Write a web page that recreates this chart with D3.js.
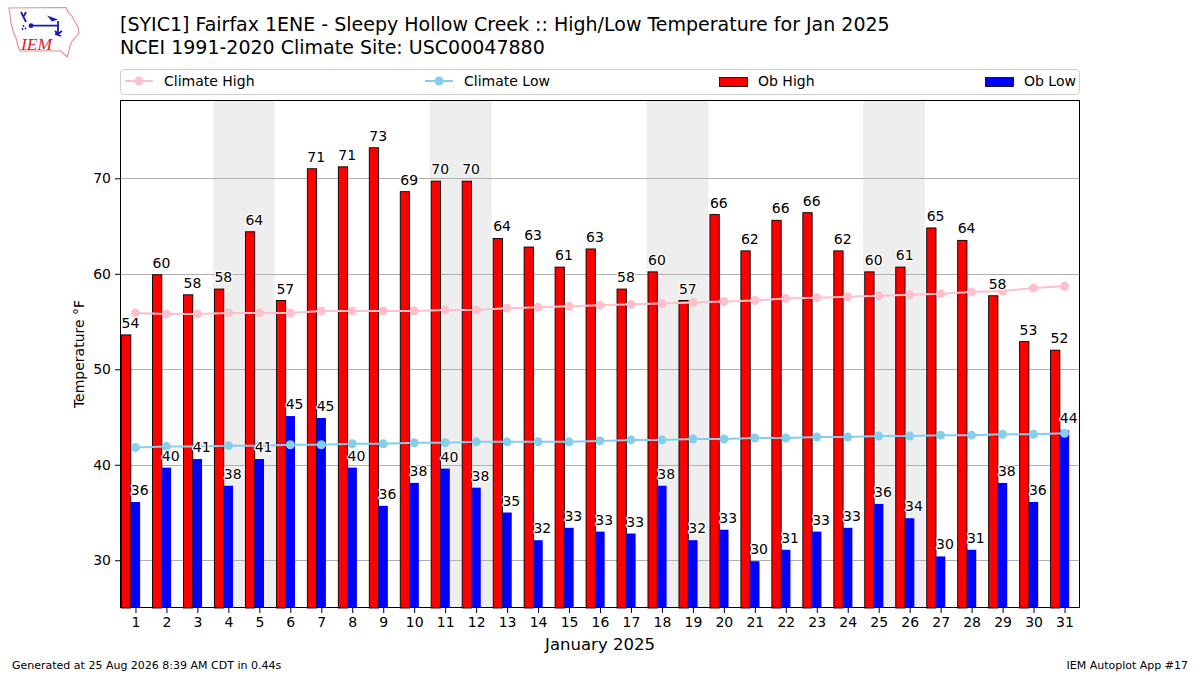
<!DOCTYPE html>
<html>
<head>
<meta charset="utf-8">
<script src="https://cdn.jsdelivr.net/npm/d3@7"></script>
<style>
  body { margin: 0; background: #fff; }
  svg { font-family: "DejaVu Sans", sans-serif; }
</style>
</head>
<body>
<script>
var width = 1200,
    height = 675;

// days of January 2025
var days = [1, 2, 3, 4, 5, 6, 7, 8, 9, 10, 11, 12, 13, 14, 15, 16,
            17, 18, 19, 20, 21, 22, 23, 24, 25, 26, 27, 28, 29, 30, 31];
var weekendStarts = [4, 11, 18, 25];

var obHigh = [53.6, 59.9, 57.8, 58.4, 64.4, 57.2, 71.0, 71.2, 73.2, 68.6, 69.7,
              69.7, 63.7, 62.8, 60.7, 62.6, 58.4, 60.2, 57.2, 66.2, 62.4, 65.6,
              66.4, 62.4, 60.2, 60.7, 64.8, 63.5, 57.7, 52.9, 52.0];
var obLow = [36.1, 39.7, 40.6, 37.8, 40.6, 45.1, 44.9, 39.7, 35.7, 38.1, 39.6,
             37.6, 35.0, 32.1, 33.4, 33.0, 32.8, 37.8, 32.1, 33.2, 29.9, 31.1,
             33.0, 33.4, 35.9, 34.4, 30.4, 31.1, 38.1, 36.1, 43.6];
var climHigh = [55.9, 55.8, 55.8, 55.9, 55.9, 55.9, 56.1, 56.1, 56.1, 56.1, 56.2,
                56.2, 56.4, 56.5, 56.6, 56.7, 56.8, 56.9, 57.0, 57.1, 57.2, 57.4,
                57.5, 57.6, 57.7, 57.8, 57.9, 58.1, 58.2, 58.5, 58.7];
var climLow = [41.8, 41.9, 41.9, 42.0, 42.0, 42.1, 42.1, 42.2, 42.2, 42.3, 42.3,
               42.4, 42.4, 42.4, 42.4, 42.5, 42.6, 42.6, 42.7, 42.7, 42.8, 42.8,
               42.9, 42.9, 43.0, 43.0, 43.1, 43.1, 43.2, 43.2, 43.3];
var yTicks = [30, 40, 50, 60, 70];

var svg = d3.select('body').append('svg')
    .attr('width', width)
    .attr('height', height);

var x = d3.scaleLinear().domain([0.5, 31.5]).range([120, 1080]);
var y = d3.scaleLinear().domain([25, 78.2]).range([608, 100]);

// ---- logo (rough IEM mark)
var logo = svg.append('g');
logo.append('path')
    .attr('d', 'M9,8 L66,7.5 L68,12 L72,16 L75,22 L78,27 L79,33 L76,37 L72,41 L70,46 L69,51 L67,57 L64,54 L61,51 L20,51 L18,46 L16,38 L13,31 L11,23 L10,15 Z')
    .attr('fill', 'none')
    .attr('stroke', '#ec8a90')
    .attr('stroke-width', 1.1);
var blue = '#1a1ab8';
logo.append('path')
    .attr('d', 'M21,12 L23,16 L26,22 M26,12 L24,16 M30,25.7 L59,25.7 M58,21 L58,33 M55,31 L58,34 L62,31 M55,34 L61,36')
    .attr('fill', 'none')
    .attr('stroke', blue)
    .attr('stroke-width', 1.8);
logo.append('circle').attr('cx', 31).attr('cy', 25.7).attr('r', 2.4).attr('fill', blue);
logo.append('circle').attr('cx', 23.5).attr('cy', 26).attr('r', 0.9).attr('fill', blue);
logo.append('circle').attr('cx', 25.5).attr('cy', 28.5).attr('r', 0.9).attr('fill', blue);
logo.append('circle').attr('cx', 22.5).attr('cy', 29).attr('r', 0.9).attr('fill', blue);
logo.append('path').attr('d', 'M47,15.5 L58,19.5 L52,21.5 Z').attr('fill', blue);
logo.append('text')
    .attr('x', 21).attr('y', 50)
    .attr('font-family', 'Liberation Serif, serif')
    .attr('font-style', 'italic')
    .attr('font-size', 17.5)
    .attr('fill', '#d81e1e')
    .text('IEM');

// ---- titles
svg.append('text').attr('x', 120).attr('y', 31)
    .attr('font-size', 19).attr('fill', '#000')
    .text('[SYIC1] Fairfax 1ENE - Sleepy Hollow Creek :: High/Low Temperature for Jan 2025');
svg.append('text').attr('x', 120).attr('y', 54)
    .attr('font-size', 19).attr('fill', '#000')
    .text('NCEI 1991-2020 Climate Site: USC00047880');

// ---- legend
var leg = svg.append('g');
leg.append('rect')
    .attr('x', 120.5).attr('y', 69.5).attr('width', 959).attr('height', 25)
    .attr('rx', 3)
    .attr('fill', '#fff').attr('stroke', '#d0d0d0');
var legendItems = [
    {label: 'Climate High', kind: 'line', color: 'pink', x0: 125},
    {label: 'Climate Low', kind: 'line', color: 'skyblue', x0: 425},
    {label: 'Ob High', kind: 'bar', color: 'red', x0: 719},
    {label: 'Ob Low', kind: 'bar', color: 'blue', x0: 985}
];
legendItems.forEach(function (d) {
    if (d.kind === 'line') {
        leg.append('line')
            .attr('x1', d.x0).attr('x2', d.x0 + 28).attr('y1', 81).attr('y2', 81)
            .attr('stroke', d.color).attr('stroke-width', 2);
        leg.append('circle')
            .attr('cx', d.x0 + 14).attr('cy', 81).attr('r', 4.5)
            .attr('fill', d.color);
    } else {
        leg.append('rect')
            .attr('x', d.x0 + 0.5).attr('y', 77.5).attr('width', 28).attr('height', 9)
            .attr('fill', d.color).attr('stroke', '#000').attr('stroke-width', 0.8);
    }
    leg.append('text')
        .attr('x', d.x0 + 39).attr('y', 86)
        .attr('font-size', 14)
        .text(d.label);
});

// ---- plot area
var plot = svg.append('g');

plot.selectAll('rect.weekend')
    .data(weekendStarts)
    .enter().append('rect')
    .attr('class', 'weekend')
    .attr('x', function (d) { return x(d - 0.5); })
    .attr('width', function (d) { return x(d + 1.5) - x(d - 0.5); })
    .attr('y', y.range()[1])
    .attr('height', y.range()[0] - y.range()[1])
    .attr('fill', '#eeeeee');

plot.selectAll('line.grid')
    .data(yTicks)
    .enter().append('line')
    .attr('class', 'grid')
    .attr('x1', x.range()[0]).attr('x2', x.range()[1])
    .attr('y1', function (d) { return Math.round(y(d)) + 0.5; })
    .attr('y2', function (d) { return Math.round(y(d)) + 0.5; })
    .attr('stroke', '#b0b0b0').attr('stroke-width', 1);

var highData = days.map(function (d, i) { return {day: d, v: obHigh[i]}; });
var lowData = days.map(function (d, i) { return {day: d, v: obLow[i]}; });

plot.selectAll('rect.high')
    .data(highData)
    .enter().append('rect')
    .attr('class', 'high')
    .attr('x', function (d) { return x(d.day - 0.45); })
    .attr('width', x(0.3) - x(0))
    .attr('y', function (d) { return y(d.v); })
    .attr('height', function (d) { return y(25) - y(d.v); })
    .attr('fill', 'red')
    .attr('stroke', '#000').attr('stroke-width', 0.9);

plot.selectAll('rect.low')
    .data(lowData)
    .enter().append('rect')
    .attr('class', 'low')
    .attr('x', function (d) { return x(d.day - 0.15); })
    .attr('width', x(0.3) - x(0))
    .attr('y', function (d) { return y(d.v); })
    .attr('height', function (d) { return y(25) - y(d.v); })
    .attr('fill', 'blue');

// climate lines
[[climHigh, 'pink'], [climLow, 'skyblue']].forEach(function (s) {
    var pts = days.map(function (d, i) { return [x(d), y(s[0][i])]; });
    plot.append('path')
        .attr('d', d3.line()(pts))
        .attr('fill', 'none')
        .attr('stroke', s[1]).attr('stroke-width', 2);
    plot.selectAll(null)
        .data(pts)
        .enter().append('circle')
        .attr('cx', function (p) { return p[0]; })
        .attr('cy', function (p) { return p[1]; })
        .attr('r', 4.5)
        .attr('fill', s[1]);
});

// value labels
function addLabels(data, off) {
    plot.selectAll(null)
        .data(data)
        .enter().append('text')
        .attr('x', function (d) { return x(d.day + off); })
        .attr('y', function (d) { return y(d.v) - 7; })
        .attr('font-size', 14)
        .attr('fill', '#000')
        .attr('stroke', '#fff').attr('stroke-width', 2.5)
        .attr('paint-order', 'stroke')
        .attr('stroke-linejoin', 'round')
        .text(function (d) { return Math.round(d.v); });
}
addLabels(highData, -0.45);
addLabels(lowData, -0.15);

// frame
plot.append('rect')
    .attr('x', 120.5).attr('y', 100.5)
    .attr('width', 959).attr('height', 507)
    .attr('fill', 'none').attr('stroke', '#000').attr('stroke-width', 1);

// axes
var xAxis = d3.axisBottom(x).tickValues(days).tickSize(5).tickPadding(4).tickFormat(d3.format('d'));
var gx = svg.append('g').attr('transform', 'translate(0,608)').call(xAxis);
gx.select('.domain').remove();
gx.selectAll('text').attr('font-size', 14).attr('font-family', 'DejaVu Sans').attr('fill', '#000');

var yAxis = d3.axisLeft(y).tickValues(yTicks).tickSize(5).tickPadding(4);
var gy = svg.append('g').attr('transform', 'translate(120,0)').call(yAxis);
gy.select('.domain').remove();
gy.selectAll('text').attr('font-size', 14).attr('font-family', 'DejaVu Sans').attr('fill', '#000');

svg.append('text')
    .attr('x', 600).attr('y', 650)
    .attr('text-anchor', 'middle')
    .attr('font-size', 16.5)
    .text('January 2025');

svg.append('text')
    .attr('transform', 'translate(84,354) rotate(-90)')
    .attr('text-anchor', 'middle')
    .attr('font-size', 14)
    .text('Temperature °F');

// footer
svg.append('text').attr('x', 12).attr('y', 669)
    .attr('font-size', 11).text('Generated at 25 Aug 2026 8:39 AM CDT in 0.44s');
svg.append('text').attr('x', 1188).attr('y', 669)
    .attr('text-anchor', 'end')
    .attr('font-size', 11).text('IEM Autoplot App #17');
</script>
</body>
</html>
